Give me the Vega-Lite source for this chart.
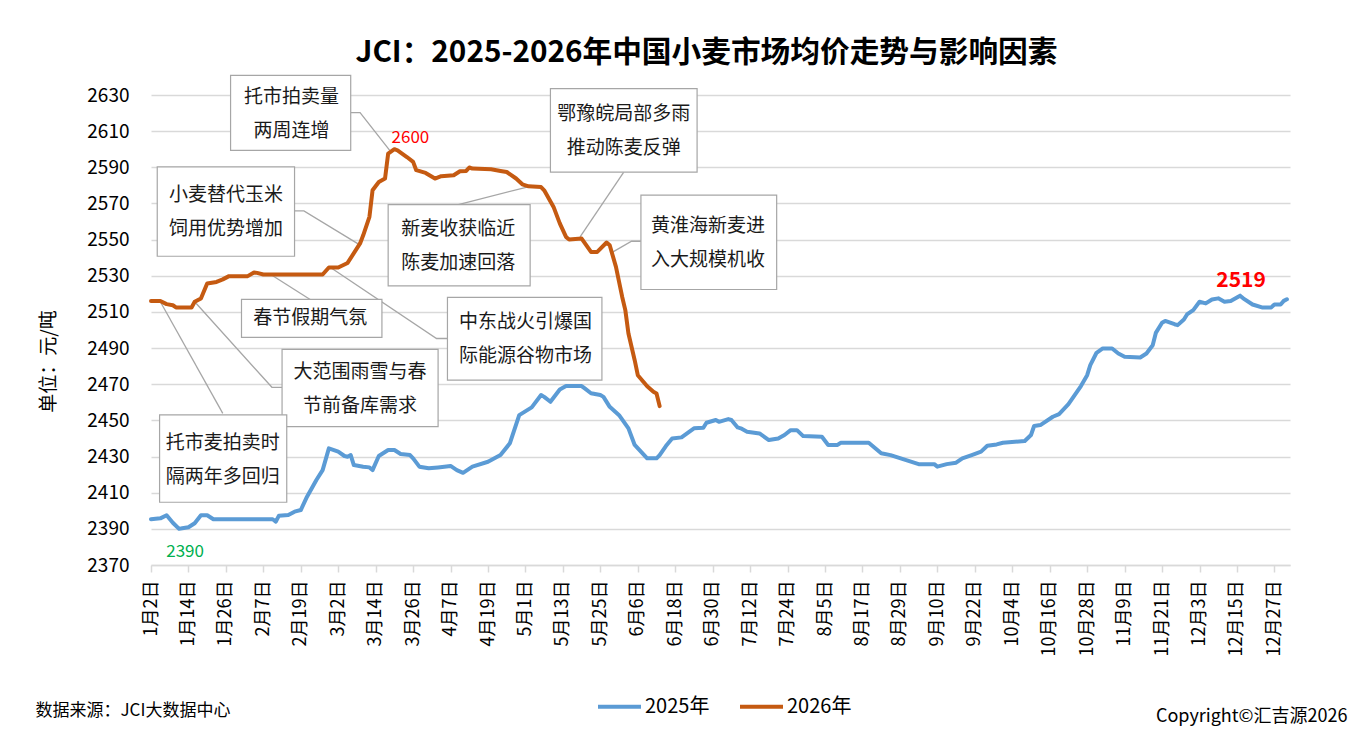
{
  "$schema": "https://vega.github.io/schema/vega-lite/v6.json",
  "width": 1139,
  "height": 470,
  "autosize": {"type": "none"},
  "padding": {"left": 151, "top": 95, "right": 80, "bottom": 178},
  "background": "white",
  "title": {
    "text": "JCI：2025-2026年中国小麦市场均价走势与影响因素",
    "font": "Noto Sans CJK SC",
    "fontSize": 29.7,
    "fontWeight": "bold",
    "color": "#000000",
    "anchor": "middle",
    "dx": -14,
    "dy": 47,
    "offset": 30,
    "baseline": "alphabetic"
  },
  "config": {
    "view": {"stroke": null},
    "font": "Noto Sans CJK SC"
  },
  "datasets": {
    "series": [
      {"series": "2025年", "date": "2024-01-02", "value": 2395.3},
      {"series": "2025年", "date": "2024-01-05", "value": 2395.8},
      {"series": "2025年", "date": "2024-01-07", "value": 2397.5},
      {"series": "2025年", "date": "2024-01-09", "value": 2393.4},
      {"series": "2025年", "date": "2024-01-11", "value": 2390},
      {"series": "2025年", "date": "2024-01-12", "value": 2390.3},
      {"series": "2025年", "date": "2024-01-14", "value": 2390.9},
      {"series": "2025年", "date": "2024-01-16", "value": 2393.1},
      {"series": "2025年", "date": "2024-01-18", "value": 2397.5},
      {"series": "2025年", "date": "2024-01-20", "value": 2397.5},
      {"series": "2025年", "date": "2024-01-22", "value": 2395.3},
      {"series": "2025年", "date": "2024-02-10", "value": 2395.3},
      {"series": "2025年", "date": "2024-02-11", "value": 2394},
      {"series": "2025年", "date": "2024-02-12", "value": 2397.3},
      {"series": "2025年", "date": "2024-02-15", "value": 2397.7},
      {"series": "2025年", "date": "2024-02-17", "value": 2399.5},
      {"series": "2025年", "date": "2024-02-19", "value": 2400.4},
      {"series": "2025年", "date": "2024-02-21", "value": 2407.8},
      {"series": "2025年", "date": "2024-02-24", "value": 2417},
      {"series": "2025年", "date": "2024-02-26", "value": 2422.5},
      {"series": "2025年", "date": "2024-02-28", "value": 2434.5},
      {"series": "2025年", "date": "2024-03-02", "value": 2432.7},
      {"series": "2025年", "date": "2024-03-04", "value": 2430.3},
      {"series": "2025年", "date": "2024-03-05", "value": 2429.9},
      {"series": "2025年", "date": "2024-03-06", "value": 2430.8},
      {"series": "2025年", "date": "2024-03-07", "value": 2425.3},
      {"series": "2025年", "date": "2024-03-10", "value": 2424.4},
      {"series": "2025年", "date": "2024-03-12", "value": 2424},
      {"series": "2025年", "date": "2024-03-13", "value": 2422.5},
      {"series": "2025年", "date": "2024-03-15", "value": 2430.3},
      {"series": "2025年", "date": "2024-03-18", "value": 2433.6},
      {"series": "2025年", "date": "2024-03-20", "value": 2433.6},
      {"series": "2025年", "date": "2024-03-22", "value": 2431.4},
      {"series": "2025年", "date": "2024-03-25", "value": 2430.8},
      {"series": "2025年", "date": "2024-03-26", "value": 2429},
      {"series": "2025年", "date": "2024-03-28", "value": 2424.4},
      {"series": "2025年", "date": "2024-03-31", "value": 2423.5},
      {"series": "2025年", "date": "2024-04-03", "value": 2424},
      {"series": "2025年", "date": "2024-04-07", "value": 2424.8},
      {"series": "2025年", "date": "2024-04-09", "value": 2422.5},
      {"series": "2025年", "date": "2024-04-11", "value": 2421},
      {"series": "2025年", "date": "2024-04-14", "value": 2424.4},
      {"series": "2025年", "date": "2024-04-19", "value": 2427.1},
      {"series": "2025年", "date": "2024-04-23", "value": 2430.8},
      {"series": "2025年", "date": "2024-04-26", "value": 2437.3},
      {"series": "2025年", "date": "2024-04-29", "value": 2452.9},
      {"series": "2025年", "date": "2024-05-03", "value": 2457.2},
      {"series": "2025年", "date": "2024-05-06", "value": 2464},
      {"series": "2025年", "date": "2024-05-07", "value": 2463},
      {"series": "2025年", "date": "2024-05-09", "value": 2460.3},
      {"series": "2025年", "date": "2024-05-12", "value": 2467.1},
      {"series": "2025年", "date": "2024-05-14", "value": 2469},
      {"series": "2025年", "date": "2024-05-19", "value": 2469},
      {"series": "2025年", "date": "2024-05-20", "value": 2467.7},
      {"series": "2025年", "date": "2024-05-22", "value": 2465},
      {"series": "2025年", "date": "2024-05-25", "value": 2464},
      {"series": "2025年", "date": "2024-05-26", "value": 2463},
      {"series": "2025年", "date": "2024-05-28", "value": 2457.5},
      {"series": "2025年", "date": "2024-05-31", "value": 2452.9},
      {"series": "2025年", "date": "2024-06-03", "value": 2445.6},
      {"series": "2025年", "date": "2024-06-05", "value": 2436.4},
      {"series": "2025年", "date": "2024-06-07", "value": 2432.7},
      {"series": "2025年", "date": "2024-06-09", "value": 2429},
      {"series": "2025年", "date": "2024-06-12", "value": 2429},
      {"series": "2025年", "date": "2024-06-13", "value": 2430.8},
      {"series": "2025年", "date": "2024-06-15", "value": 2435.8},
      {"series": "2025年", "date": "2024-06-17", "value": 2440},
      {"series": "2025年", "date": "2024-06-20", "value": 2440.6},
      {"series": "2025年", "date": "2024-06-22", "value": 2443.1},
      {"series": "2025年", "date": "2024-06-24", "value": 2445.6},
      {"series": "2025年", "date": "2024-06-27", "value": 2445.9},
      {"series": "2025年", "date": "2024-06-28", "value": 2448.7},
      {"series": "2025年", "date": "2024-07-01", "value": 2450.2},
      {"series": "2025年", "date": "2024-07-02", "value": 2449.2},
      {"series": "2025年", "date": "2024-07-05", "value": 2450.7},
      {"series": "2025年", "date": "2024-07-06", "value": 2450.2},
      {"series": "2025年", "date": "2024-07-08", "value": 2446.1},
      {"series": "2025年", "date": "2024-07-09", "value": 2445.6},
      {"series": "2025年", "date": "2024-07-11", "value": 2443.7},
      {"series": "2025年", "date": "2024-07-15", "value": 2442.8},
      {"series": "2025年", "date": "2024-07-18", "value": 2439.1},
      {"series": "2025年", "date": "2024-07-21", "value": 2440},
      {"series": "2025年", "date": "2024-07-23", "value": 2441.9},
      {"series": "2025年", "date": "2024-07-25", "value": 2444.6},
      {"series": "2025年", "date": "2024-07-27", "value": 2444.6},
      {"series": "2025年", "date": "2024-07-29", "value": 2441.3},
      {"series": "2025年", "date": "2024-08-04", "value": 2440.9},
      {"series": "2025年", "date": "2024-08-06", "value": 2436.4},
      {"series": "2025年", "date": "2024-08-09", "value": 2436.4},
      {"series": "2025年", "date": "2024-08-10", "value": 2437.6},
      {"series": "2025年", "date": "2024-08-19", "value": 2437.6},
      {"series": "2025年", "date": "2024-08-23", "value": 2431.8},
      {"series": "2025年", "date": "2024-08-26", "value": 2430.8},
      {"series": "2025年", "date": "2024-08-31", "value": 2428},
      {"series": "2025年", "date": "2024-09-04", "value": 2425.8},
      {"series": "2025年", "date": "2024-09-09", "value": 2425.8},
      {"series": "2025年", "date": "2024-09-10", "value": 2424.4},
      {"series": "2025年", "date": "2024-09-13", "value": 2425.8},
      {"series": "2025年", "date": "2024-09-16", "value": 2426.6},
      {"series": "2025年", "date": "2024-09-18", "value": 2429},
      {"series": "2025年", "date": "2024-09-21", "value": 2430.8},
      {"series": "2025年", "date": "2024-09-24", "value": 2432.7},
      {"series": "2025年", "date": "2024-09-26", "value": 2436},
      {"series": "2025年", "date": "2024-09-29", "value": 2436.7},
      {"series": "2025年", "date": "2024-10-01", "value": 2437.6},
      {"series": "2025年", "date": "2024-10-08", "value": 2438.6},
      {"series": "2025年", "date": "2024-10-10", "value": 2441.9},
      {"series": "2025年", "date": "2024-10-11", "value": 2446.9},
      {"series": "2025年", "date": "2024-10-13", "value": 2447.4},
      {"series": "2025年", "date": "2024-10-17", "value": 2452},
      {"series": "2025年", "date": "2024-10-19", "value": 2453.5},
      {"series": "2025年", "date": "2024-10-22", "value": 2459},
      {"series": "2025年", "date": "2024-10-24", "value": 2464},
      {"series": "2025年", "date": "2024-10-26", "value": 2469},
      {"series": "2025年", "date": "2024-10-28", "value": 2475},
      {"series": "2025年", "date": "2024-10-29", "value": 2480.6},
      {"series": "2025年", "date": "2024-10-31", "value": 2487.4},
      {"series": "2025年", "date": "2024-11-02", "value": 2489.8},
      {"series": "2025年", "date": "2024-11-05", "value": 2489.8},
      {"series": "2025年", "date": "2024-11-07", "value": 2487},
      {"series": "2025年", "date": "2024-11-09", "value": 2485.2},
      {"series": "2025年", "date": "2024-11-14", "value": 2484.8},
      {"series": "2025年", "date": "2024-11-16", "value": 2487},
      {"series": "2025年", "date": "2024-11-18", "value": 2491.6},
      {"series": "2025年", "date": "2024-11-19", "value": 2498.4},
      {"series": "2025年", "date": "2024-11-21", "value": 2504},
      {"series": "2025年", "date": "2024-11-22", "value": 2505},
      {"series": "2025年", "date": "2024-11-25", "value": 2503.2},
      {"series": "2025年", "date": "2024-11-26", "value": 2502.7},
      {"series": "2025年", "date": "2024-11-28", "value": 2505.8},
      {"series": "2025年", "date": "2024-11-29", "value": 2508.6},
      {"series": "2025年", "date": "2024-12-01", "value": 2511},
      {"series": "2025年", "date": "2024-12-03", "value": 2515.6},
      {"series": "2025年", "date": "2024-12-05", "value": 2514.7},
      {"series": "2025年", "date": "2024-12-07", "value": 2516.9},
      {"series": "2025年", "date": "2024-12-09", "value": 2517.5},
      {"series": "2025年", "date": "2024-12-11", "value": 2515.6},
      {"series": "2025年", "date": "2024-12-13", "value": 2516.1},
      {"series": "2025年", "date": "2024-12-16", "value": 2519},
      {"series": "2025年", "date": "2024-12-17", "value": 2517.5},
      {"series": "2025年", "date": "2024-12-20", "value": 2514.1},
      {"series": "2025年", "date": "2024-12-23", "value": 2512.5},
      {"series": "2025年", "date": "2024-12-26", "value": 2512.5},
      {"series": "2025年", "date": "2024-12-27", "value": 2514.1},
      {"series": "2025年", "date": "2024-12-29", "value": 2514.1},
      {"series": "2025年", "date": "2024-12-30", "value": 2516.1},
      {"series": "2025年", "date": "2024-12-31", "value": 2517},
      {"series": "2026年", "date": "2024-01-02", "value": 2516},
      {"series": "2026年", "date": "2024-01-05", "value": 2516},
      {"series": "2026年", "date": "2024-01-07", "value": 2514.3},
      {"series": "2026年", "date": "2024-01-09", "value": 2513.7},
      {"series": "2026年", "date": "2024-01-10", "value": 2512.5},
      {"series": "2026年", "date": "2024-01-15", "value": 2512.5},
      {"series": "2026年", "date": "2024-01-16", "value": 2515.6},
      {"series": "2026年", "date": "2024-01-18", "value": 2517.4},
      {"series": "2026年", "date": "2024-01-20", "value": 2525.7},
      {"series": "2026年", "date": "2024-01-23", "value": 2526.6},
      {"series": "2026年", "date": "2024-01-25", "value": 2528},
      {"series": "2026年", "date": "2024-01-27", "value": 2529.8},
      {"series": "2026年", "date": "2024-02-02", "value": 2529.8},
      {"series": "2026年", "date": "2024-02-04", "value": 2531.8},
      {"series": "2026年", "date": "2024-02-05", "value": 2531.6},
      {"series": "2026年", "date": "2024-02-07", "value": 2530.7},
      {"series": "2026年", "date": "2024-02-26", "value": 2530.7},
      {"series": "2026年", "date": "2024-02-28", "value": 2534.6},
      {"series": "2026年", "date": "2024-03-02", "value": 2534.6},
      {"series": "2026年", "date": "2024-03-05", "value": 2537.1},
      {"series": "2026年", "date": "2024-03-09", "value": 2547.9},
      {"series": "2026年", "date": "2024-03-10", "value": 2552.4},
      {"series": "2026年", "date": "2024-03-12", "value": 2562.6},
      {"series": "2026年", "date": "2024-03-13", "value": 2577.3},
      {"series": "2026年", "date": "2024-03-15", "value": 2581.9},
      {"series": "2026年", "date": "2024-03-17", "value": 2583.8},
      {"series": "2026年", "date": "2024-03-18", "value": 2597.6},
      {"series": "2026年", "date": "2024-03-20", "value": 2600},
      {"series": "2026年", "date": "2024-03-21", "value": 2599.4},
      {"series": "2026年", "date": "2024-03-24", "value": 2595.7},
      {"series": "2026年", "date": "2024-03-26", "value": 2593},
      {"series": "2026年", "date": "2024-03-27", "value": 2588.4},
      {"series": "2026年", "date": "2024-03-30", "value": 2586.9},
      {"series": "2026年", "date": "2024-04-02", "value": 2583.8},
      {"series": "2026年", "date": "2024-04-04", "value": 2585.1},
      {"series": "2026年", "date": "2024-04-08", "value": 2585.6},
      {"series": "2026年", "date": "2024-04-10", "value": 2587.8},
      {"series": "2026年", "date": "2024-04-12", "value": 2588},
      {"series": "2026年", "date": "2024-04-13", "value": 2589.9},
      {"series": "2026年", "date": "2024-04-14", "value": 2589.3},
      {"series": "2026年", "date": "2024-04-20", "value": 2588.9},
      {"series": "2026年", "date": "2024-04-23", "value": 2588},
      {"series": "2026年", "date": "2024-04-25", "value": 2587.4},
      {"series": "2026年", "date": "2024-04-28", "value": 2583.8},
      {"series": "2026年", "date": "2024-04-30", "value": 2580.6},
      {"series": "2026年", "date": "2024-05-02", "value": 2579.5},
      {"series": "2026年", "date": "2024-05-06", "value": 2579.1},
      {"series": "2026年", "date": "2024-05-07", "value": 2577.3},
      {"series": "2026年", "date": "2024-05-10", "value": 2568.1},
      {"series": "2026年", "date": "2024-05-12", "value": 2559},
      {"series": "2026年", "date": "2024-05-14", "value": 2551.5},
      {"series": "2026年", "date": "2024-05-15", "value": 2550},
      {"series": "2026年", "date": "2024-05-19", "value": 2550.6},
      {"series": "2026年", "date": "2024-05-22", "value": 2543.2},
      {"series": "2026年", "date": "2024-05-24", "value": 2543.2},
      {"series": "2026年", "date": "2024-05-27", "value": 2548.4},
      {"series": "2026年", "date": "2024-05-28", "value": 2546.9},
      {"series": "2026年", "date": "2024-05-30", "value": 2534.9},
      {"series": "2026年", "date": "2024-06-01", "value": 2518.3},
      {"series": "2026年", "date": "2024-06-02", "value": 2511},
      {"series": "2026年", "date": "2024-06-03", "value": 2498.1},
      {"series": "2026年", "date": "2024-06-05", "value": 2483.3},
      {"series": "2026年", "date": "2024-06-06", "value": 2475},
      {"series": "2026年", "date": "2024-06-09", "value": 2468.9},
      {"series": "2026年", "date": "2024-06-11", "value": 2465.8},
      {"series": "2026年", "date": "2024-06-12", "value": 2464.9},
      {"series": "2026年", "date": "2024-06-13", "value": 2457.9}
    ],
    "notes": [
      {"id": "A", "label": "托市拍卖量\n两周连增", "x1": "2024-01-27T12:00:00Z", "x2": "2024-03-06", "y1": 2640.9, "y2": 2599.4, "tx": "2024-02-16", "ty": 2619.3},
      {"id": "B", "label": "小麦替代玉米\n饲用优势增加", "x1": "2024-01-04", "x2": "2024-02-17", "y1": 2590.2, "y2": 2540.8, "tx": "2024-01-26", "ty": 2565.5},
      {"id": "C", "label": "春节假期气氛", "x1": "2024-01-31", "x2": "2024-03-16", "y1": 2516.9, "y2": 2495.9, "tx": "2024-02-22", "ty": 2506.6},
      {"id": "D", "label": "新麦收获临近\n陈麦加速回落", "x1": "2024-03-18", "x2": "2024-05-02T12:00:00Z", "y1": 2569.4, "y2": 2524.4, "tx": "2024-04-09T12:00:00Z", "ty": 2546.6},
      {"id": "E", "label": "中东战火引爆国\n际能源谷物市场", "x1": "2024-04-06", "x2": "2024-05-25T12:00:00Z", "y1": 2518, "y2": 2472.3, "tx": "2024-05-01", "ty": 2494.9},
      {"id": "F", "label": "鄂豫皖局部多雨\n推动陈麦反弹", "x1": "2024-05-09", "x2": "2024-06-25", "y1": 2633.5, "y2": 2587.3, "tx": "2024-06-01T12:00:00Z", "ty": 2610.2},
      {"id": "G", "label": "黄淮海新麦进\n入大规模机收", "x1": "2024-06-07", "x2": "2024-07-20T12:00:00Z", "y1": 2574.6, "y2": 2522.4, "tx": "2024-06-28T12:00:00Z", "ty": 2547.9},
      {"id": "H", "label": "大范围雨雪与春\n节前备库需求", "x1": "2024-02-13", "x2": "2024-04-03", "y1": 2489.3, "y2": 2446.5, "tx": "2024-03-09", "ty": 2467.1},
      {"id": "I", "label": "托市麦拍卖时\n隔两年多回归", "x1": "2024-01-04T18:00:00Z", "x2": "2024-02-14T12:00:00Z", "y1": 2453.1, "y2": 2404.7, "tx": "2024-01-25", "ty": 2428.2}
    ],
    "leaders": [
      {"id": "A", "ord": 1, "date": "2024-03-06", "value": 2620.3},
      {"id": "A", "ord": 2, "date": "2024-03-09", "value": 2620.3},
      {"id": "A", "ord": 3, "date": "2024-03-18T12:00:00Z", "value": 2599.4},
      {"id": "B", "ord": 1, "date": "2024-02-17", "value": 2565.9},
      {"id": "B", "ord": 2, "date": "2024-02-20", "value": 2565.9},
      {"id": "B", "ord": 3, "date": "2024-03-08T12:00:00Z", "value": 2547.5},
      {"id": "C", "ord": 1, "date": "2024-02-09T18:00:00Z", "value": 2530.3},
      {"id": "C", "ord": 2, "date": "2024-02-22", "value": 2516.9},
      {"id": "D", "ord": 1, "date": "2024-04-09T12:00:00Z", "value": 2569.4},
      {"id": "D", "ord": 2, "date": "2024-05-02T12:00:00Z", "value": 2579.5},
      {"id": "E", "ord": 1, "date": "2024-02-29", "value": 2534.0},
      {"id": "E", "ord": 2, "date": "2024-04-02T12:00:00Z", "value": 2495.3},
      {"id": "E", "ord": 3, "date": "2024-04-06", "value": 2495.3},
      {"id": "F", "ord": 1, "date": "2024-06-01T12:00:00Z", "value": 2587.3},
      {"id": "F", "ord": 2, "date": "2024-05-18T12:00:00Z", "value": 2551.5},
      {"id": "G", "ord": 1, "date": "2024-06-07", "value": 2549.1},
      {"id": "G", "ord": 2, "date": "2024-06-04", "value": 2549.1},
      {"id": "G", "ord": 3, "date": "2024-05-28T12:00:00Z", "value": 2542.7},
      {"id": "H", "ord": 1, "date": "2024-01-16", "value": 2515.6},
      {"id": "H", "ord": 2, "date": "2024-02-09T18:00:00Z", "value": 2468.3},
      {"id": "H", "ord": 3, "date": "2024-02-13", "value": 2468.3},
      {"id": "I", "ord": 1, "date": "2024-01-05", "value": 2515.6},
      {"id": "I", "ord": 2, "date": "2024-01-25", "value": 2453.9}
    ]
  },
  "layer": [
    {
      "layer": [
        {
          "data": {"name": "leaders"},
          "mark": {"type": "line", "stroke": "#A6A6A6", "strokeWidth": 1.3},
          "encoding": {
            "x": {"field": "date", "type": "temporal"},
            "y": {"field": "value", "type": "quantitative"},
            "detail": {"field": "id", "type": "nominal"},
            "order": {"field": "ord", "type": "quantitative"}
          }
        },
        {
          "data": {"name": "series"},
          "mark": {"type": "line", "strokeWidth": 4, "strokeJoin": "round", "strokeCap": "round"},
          "encoding": {
            "x": {
              "field": "date",
              "type": "temporal",
              "scale": {
                "type": "utc",
                "domain": [
                  {"year": 2024, "month": 1, "date": 2, "utc": true},
                  {"year": 2025, "month": 1, "date": 1, "utc": true}
                ]
              },
              "axis": {
                "values": [
                  {"year": 2024, "month": 1, "date": 2, "utc": true},
                  {"year": 2024, "month": 1, "date": 14, "utc": true},
                  {"year": 2024, "month": 1, "date": 26, "utc": true},
                  {"year": 2024, "month": 2, "date": 7, "utc": true},
                  {"year": 2024, "month": 2, "date": 19, "utc": true},
                  {"year": 2024, "month": 3, "date": 2, "utc": true},
                  {"year": 2024, "month": 3, "date": 14, "utc": true},
                  {"year": 2024, "month": 3, "date": 26, "utc": true},
                  {"year": 2024, "month": 4, "date": 7, "utc": true},
                  {"year": 2024, "month": 4, "date": 19, "utc": true},
                  {"year": 2024, "month": 5, "date": 1, "utc": true},
                  {"year": 2024, "month": 5, "date": 13, "utc": true},
                  {"year": 2024, "month": 5, "date": 25, "utc": true},
                  {"year": 2024, "month": 6, "date": 6, "utc": true},
                  {"year": 2024, "month": 6, "date": 18, "utc": true},
                  {"year": 2024, "month": 6, "date": 30, "utc": true},
                  {"year": 2024, "month": 7, "date": 12, "utc": true},
                  {"year": 2024, "month": 7, "date": 24, "utc": true},
                  {"year": 2024, "month": 8, "date": 5, "utc": true},
                  {"year": 2024, "month": 8, "date": 17, "utc": true},
                  {"year": 2024, "month": 8, "date": 29, "utc": true},
                  {"year": 2024, "month": 9, "date": 10, "utc": true},
                  {"year": 2024, "month": 9, "date": 22, "utc": true},
                  {"year": 2024, "month": 10, "date": 4, "utc": true},
                  {"year": 2024, "month": 10, "date": 16, "utc": true},
                  {"year": 2024, "month": 10, "date": 28, "utc": true},
                  {"year": 2024, "month": 11, "date": 9, "utc": true},
                  {"year": 2024, "month": 11, "date": 21, "utc": true},
                  {"year": 2024, "month": 12, "date": 3, "utc": true},
                  {"year": 2024, "month": 12, "date": 15, "utc": true},
                  {"year": 2024, "month": 12, "date": 27, "utc": true}
                ],
                "tickCount": 100,
                "format": "%-m月%-d日",
                "labelAngle": -90,
                "labelFontSize": 18,
                "labelColor": "#000000",
                "labelPadding": 8,
                "labelOverlap": false,
                "labelFlush": false,
                "labelBound": false,
                "tickSize": 7,
                "tickColor": "#D9D9D9",
                "tickWidth": 1.5,
                "domainColor": "#D9D9D9",
                "domainWidth": 1.5,
                "grid": false,
                "title": "数据来源：JCI大数据中心",
                "titleFontSize": 17,
                "titleFontWeight": "normal",
                "titleColor": "#000000",
                "titleAngle": 0,
                "titleAlign": "left",
                "titleBaseline": "middle",
                "titleX": -116,
                "titleY": 145
              }
            },
            "y": {
              "field": "value",
              "type": "quantitative",
              "scale": {"domain": [2370, 2630], "zero": false, "nice": false},
              "axis": {
                "values": [2370, 2390, 2410, 2430, 2450, 2470, 2490, 2510, 2530, 2550, 2570, 2590, 2610, 2630],
                "tickCount": 100,
                "format": "d",
                "labelOverlap": false,
                "grid": true,
                "gridColor": "#D9D9D9",
                "gridWidth": 1.3,
                "domain": false,
                "ticks": false,
                "labelFontSize": 19,
                "labelColor": "#000000",
                "labelPadding": 22,
                "title": "单位：元/吨",
                "titleFontSize": 19,
                "titleFontWeight": "normal",
                "titleColor": "#000000",
                "titleAngle": -90,
                "titleAlign": "center",
                "titleBaseline": "middle",
                "titleX": -103,
                "titleY": 266
              }
            },
            "color": {
              "field": "series",
              "type": "nominal",
              "scale": {"domain": ["2025年", "2026年"], "range": ["#5B9BD5", "#C55A11"]},
              "legend": {
                "orient": "none",
                "legendX": 445,
                "legendY": 588,
                "direction": "horizontal",
                "title": null,
                "symbolType": "stroke",
                "symbolSize": 1849,
                "symbolStrokeWidth": 4,
                "labelFontSize": 20,
                "labelColor": "#000000",
                "labelOffset": 2,
                "columnPadding": 22
              }
            }
          }
        },
        {
          "data": {"name": "notes"},
          "mark": {"type": "rect", "fill": "white", "stroke": "#A6A6A6", "strokeWidth": 1.2},
          "encoding": {
            "x": {"field": "x1", "type": "temporal"},
            "x2": {"field": "x2"},
            "y": {"field": "y1", "type": "quantitative"},
            "y2": {"field": "y2"}
          }
        },
        {
          "data": {"name": "notes"},
          "transform": [{"filter": "indexof(datum.label, '\\n') >= 0"}],
          "mark": {"type": "text", "fontSize": 19, "lineHeight": 34, "lineBreak": "\n", "align": "center", "baseline": "middle", "dy": -17, "fill": "#1a1a1a"},
          "encoding": {
            "x": {"field": "tx", "type": "temporal"},
            "y": {"field": "ty", "type": "quantitative"},
            "text": {"field": "label", "type": "nominal"}
          }
        },
        {
          "data": {"name": "notes"},
          "transform": [{"filter": "indexof(datum.label, '\\n') < 0"}],
          "mark": {"type": "text", "fontSize": 19, "align": "center", "baseline": "middle", "fill": "#1a1a1a"},
          "encoding": {
            "x": {"field": "tx", "type": "temporal"},
            "y": {"field": "ty", "type": "quantitative"},
            "text": {"field": "label", "type": "nominal"}
          }
        },
        {
          "data": {"values": [{"date": "2024-03-20", "value": 2600, "text": "2600"}]},
          "mark": {"type": "text", "fontSize": 17, "fill": "#FF0000", "align": "center", "baseline": "middle", "dx": 16, "dy": -11},
          "encoding": {
            "x": {"field": "date", "type": "temporal"},
            "y": {"field": "value", "type": "quantitative"},
            "text": {"field": "text", "type": "nominal"}
          }
        },
        {
          "data": {"values": [{"date": "2024-12-16", "value": 2519, "text": "2519"}]},
          "mark": {"type": "text", "fontSize": 21, "fontWeight": "bold", "fill": "#FF0000", "align": "center", "baseline": "middle", "dx": 1, "dy": -15},
          "encoding": {
            "x": {"field": "date", "type": "temporal"},
            "y": {"field": "value", "type": "quantitative"},
            "text": {"field": "text", "type": "nominal"}
          }
        },
        {
          "data": {"values": [{"date": "2024-01-11", "value": 2390, "text": "2390"}]},
          "mark": {"type": "text", "fontSize": 17, "fill": "#00B050", "align": "center", "baseline": "middle", "dx": 6, "dy": 23},
          "encoding": {
            "x": {"field": "date", "type": "temporal"},
            "y": {"field": "value", "type": "quantitative"},
            "text": {"field": "text", "type": "nominal"}
          }
        }
      ]
    },
    {
      "data": {"values": [{"v": 2370}]},
      "mark": {"type": "point", "opacity": 0},
      "encoding": {
        "y": {
          "field": "v",
          "type": "quantitative",
          "scale": {"domain": [2370, 2630], "zero": false, "nice": false},
          "axis": {
            "orient": "right",
            "labels": false,
            "ticks": false,
            "domain": false,
            "grid": false,
            "title": "Copyright©汇吉源2026",
            "titleFontSize": 18,
            "titleFontWeight": "normal",
            "titleColor": "#000000",
            "titleAngle": 0,
            "titleAlign": "right",
            "titleBaseline": "middle",
            "titleX": 57,
            "titleY": 621
          }
        }
      }
    }
  ],
  "resolve": {"axis": {"y": "independent"}}
}
